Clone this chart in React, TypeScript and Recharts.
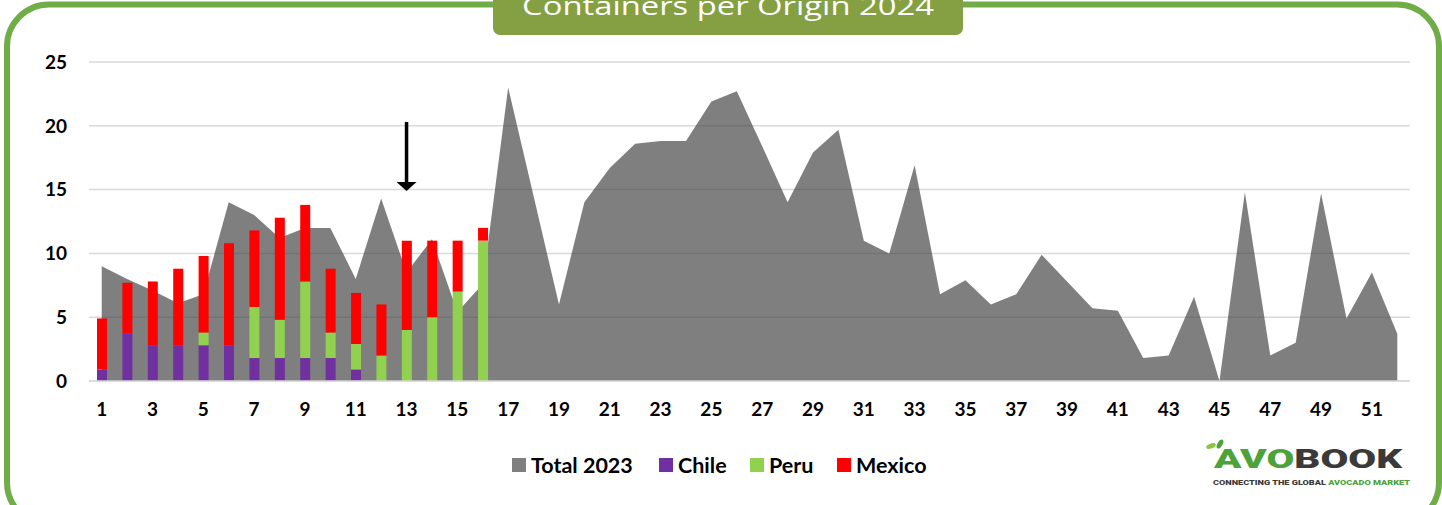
import React from "react";
import {
  ComposedChart,
  Area,
  Bar,
  XAxis,
  YAxis,
  CartesianGrid,
  ReferenceLine,
} from "recharts";

// === data ===
const weeks = [
  "1", "2", "3", "4", "5", "6", "7", "8", "9", "10", "11", "12", "13",
  "14", "15", "16", "17", "18", "19", "20", "21", "22", "23", "24", "25", "26",
  "27", "28", "29", "30", "31", "32", "33", "34", "35", "36", "37", "38", "39",
  "40", "41", "42", "43", "44", "45", "46", "47", "48", "49", "50", "51", "52",
];

const total2023 = [
  9, 8, 7.1, 6.1, 6.8, 14, 13, 11.2, 12, 12, 8, 14.3, 8.5,
  11.1, 5.4, 7.6, 23, 14.5, 6, 14, 16.7, 18.6, 18.8, 18.8, 21.9, 22.7,
  18.4, 14, 17.9, 19.7, 11, 10, 16.9, 6.8, 7.9, 6, 6.8, 9.9, 7.8,
  5.7, 5.5, 1.8, 2, 6.6, 0, 14.8, 2, 3, 14.7, 4.9, 8.5, 3.7,
];

const chile = [0.9, 3.7, 2.8, 2.8, 2.8, 2.8, 1.8, 1.8, 1.8, 1.8, 0.9, 0, 0, 0, 0, 0];
const peru = [0, 0, 0, 0, 1, 0, 4, 3, 6, 2, 2, 2, 4, 5, 7, 11];
const mexico = [4, 4, 5, 6, 6, 8, 6, 8, 6, 5, 4, 4, 7, 6, 4, 1];

const yTicks = [0, 5, 10, 15, 20, 25];

const legendItems = [
  { name: "Total 2023", color: "#7F7F7F", left: 512 },
  { name: "Chile", color: "#7030A0", left: 659 },
  { name: "Peru", color: "#92D050", left: 750 },
  { name: "Mexico", color: "#FF0000", left: 837 },
];

const rows = weeks.map((w, i) => ({
  week: w,
  total: total2023[i],
  chile: i < chile.length ? chile[i] : null,
  peru: i < peru.length ? peru[i] : null,
  mexico: i < mexico.length ? mexico[i] : null,
}));

const tickFont = { fill: "#000", fontSize: 19, fontWeight: 700, fontFamily: "Lato" };

// arrow pointing down at week 13
const ArrowShape = (props: any) => {
  const { x1, y1, x2, y2 } = props;
  return (
    <g>
      <line x1={x1} y1={y1} x2={x2} y2={y2 - 8} stroke="#000" strokeWidth={3.5} />
      <polygon points={`${x2 - 10},${y2 - 9} ${x2 + 10},${y2 - 9} ${x2},${y2}`} fill="#000" />
    </g>
  );
};

export default function App() {
  return (
    <div
      style={{
        position: "absolute",
        left: 0,
        top: 0,
        width: 1442,
        height: 505,
        overflow: "hidden",
        background: "#fff",
      }}
    >
      <ComposedChart
        width={1442}
        height={505}
        data={rows}
        margin={{ top: 62, right: 32, bottom: 94, left: 29 }}
        barCategoryGap={0}
      >
        <CartesianGrid vertical={false} stroke="#D9D9D9" strokeWidth={1.5} />
        <XAxis
          dataKey="week"
          interval={1}
          tickLine={false}
          tickSize={0}
          tickMargin={22}
          height={30}
          axisLine={{ stroke: "#D9D9D9", strokeWidth: 1.5 }}
          tick={tickFont}
        />
        <YAxis
          domain={[0, 25]}
          ticks={yTicks}
          width={60}
          tickLine={false}
          tickSize={0}
          tickMargin={22}
          axisLine={false}
          tick={tickFont}
        />
        <Area
          dataKey="total"
          type="linear"
          stroke="none"
          fill="#404040"
          fillOpacity={0.67}
          isAnimationActive={false}
        />
        <Bar dataKey="chile" stackId="a" fill="#7030A0" barSize={10} isAnimationActive={false} />
        <Bar dataKey="peru" stackId="a" fill="#92D050" barSize={10} isAnimationActive={false} />
        <Bar dataKey="mexico" stackId="a" fill="#FF0000" barSize={10} isAnimationActive={false} />
        <ReferenceLine
          segment={[
            { x: "13", y: 20.3 },
            { x: "13", y: 14.9 },
          ]}
          shape={ArrowShape}
        />
      </ComposedChart>

      {/* frame, title tab and logo */}
      <svg
        width={1442}
        height={505}
        style={{ position: "absolute", left: 0, top: 0, pointerEvents: "none" }}
      >
        <rect x={7} y={4.5} width={1432} height={520} rx={42} ry={42} fill="none" stroke="#70AD47" strokeWidth={6} />
        <rect x={493} y={-20} width={470} height={55} rx={7} ry={7} fill="#84A043" />
        <text
          x={522}
          y={15}
          fill="#fff"
          fontSize={26}
          fontFamily="Open Sans"
          textLength={412}
          lengthAdjust="spacingAndGlyphs"
        >
          Containers per Origin 2024
        </text>

        <ellipse cx={1211} cy={446} rx={5} ry={2.5} fill="#8CC63F" transform="rotate(-20 1211 446)" />
        <ellipse cx={1220} cy={444} rx={2.5} ry={5} fill="#4CA33A" transform="rotate(30 1220 444)" />
        <text x={1214} y={468} fontSize={25} fontWeight={900} fontFamily="Roboto" textLength={188} lengthAdjust="spacingAndGlyphs">
          <tspan fill="#4CA33A">AVO</tspan>
          <tspan fill="#3A3A3A">BOOK</tspan>
        </text>
        <text x={1213} y={485} fontSize={7.5} fontWeight={900} fontFamily="Roboto" textLength={197} lengthAdjust="spacingAndGlyphs">
          <tspan fill="#3A3A3A">CONNECTING THE GLOBAL </tspan>
          <tspan fill="#4CA33A">AVOCADO MARKET</tspan>
        </text>
      </svg>

      {legendItems.map((it) => (
        <div
          key={it.name}
          style={{
            position: "absolute",
            left: it.left,
            top: 451,
            height: 28,
            display: "flex",
            alignItems: "center",
            fontFamily: "Lato",
            fontWeight: 700,
            fontSize: 21.5,
            color: "#000",
            whiteSpace: "nowrap",
          }}
        >
          <span style={{ width: 14, height: 14, background: it.color, marginRight: 5, display: "inline-block" }} />
          <span>{it.name}</span>
        </div>
      ))}
    </div>
  );
}
